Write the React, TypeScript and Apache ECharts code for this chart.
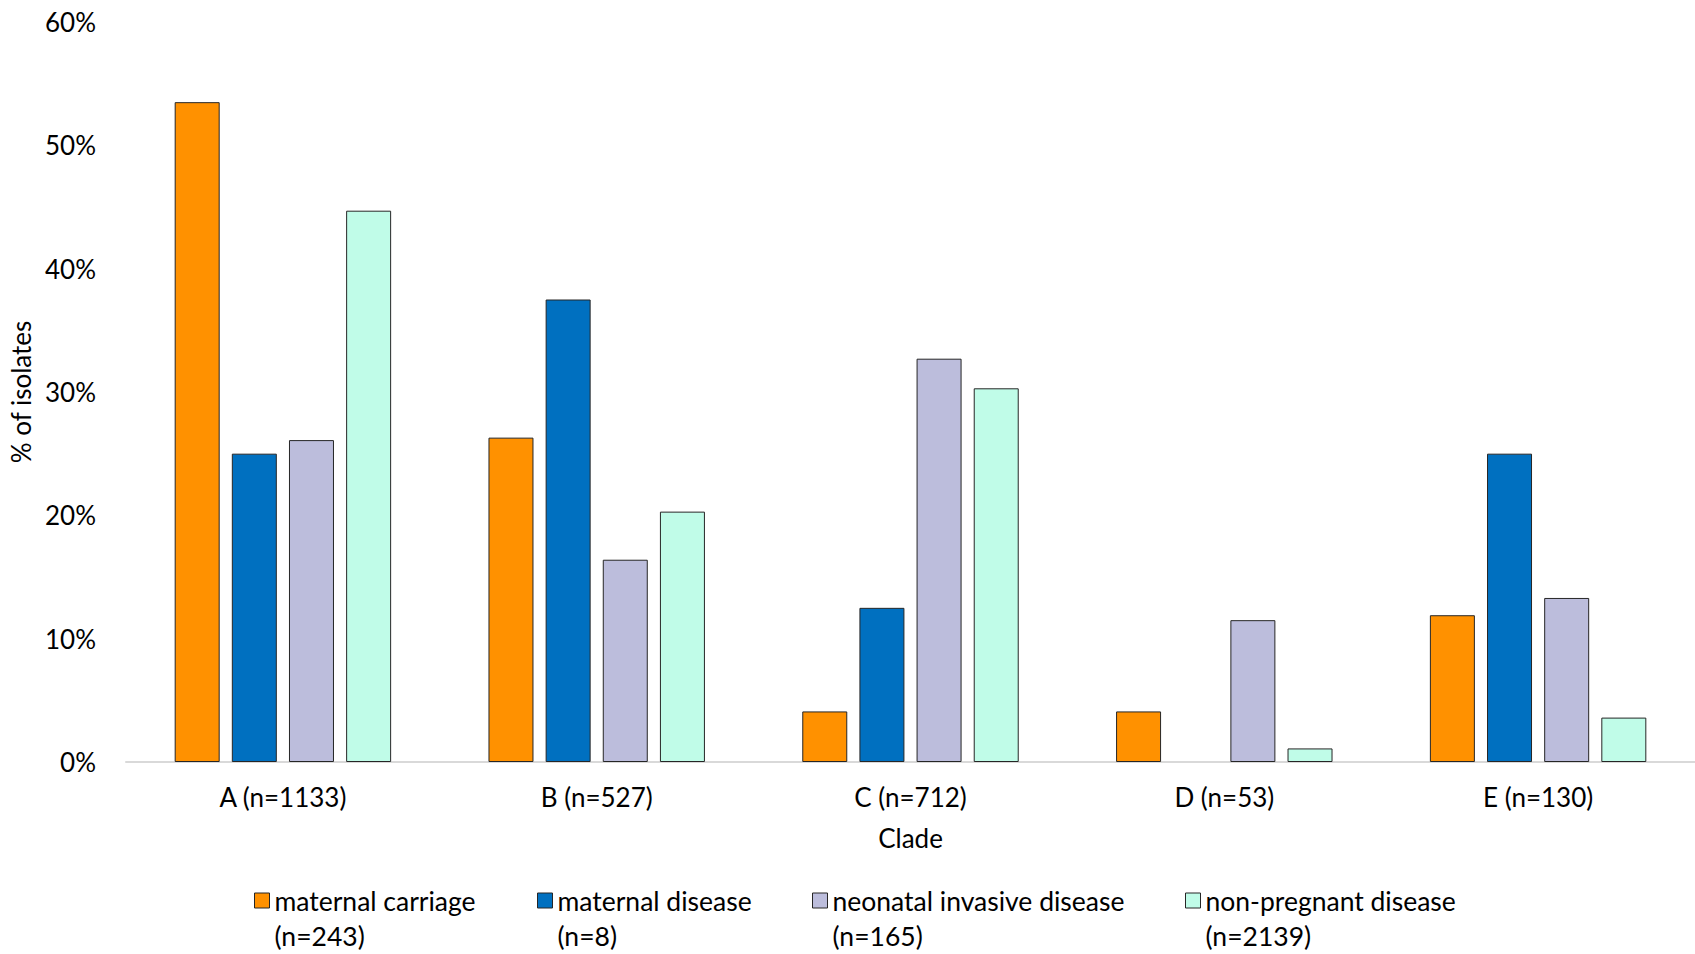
import React, { useEffect, useRef } from "react";
import * as echarts from "echarts";

const categories = ["A (n=1133)", "B (n=527)", "C (n=712)", "D (n=53)", "E (n=130)"];
const seriesNames = [
  "maternal carriage\n(n=243)",
  "maternal disease\n(n=8)",
  "neonatal invasive disease\n(n=165)",
  "non-pregnant disease\n(n=2139)",
];
const maternalCarriage = [53.5, 26.3, 4.1, 4.1, 11.9];
const maternalDisease = [25.0, 37.5, 12.5, 0, 25.0];
const neonatalInvasive = [26.1, 16.4, 32.7, 11.5, 13.3];
const nonPregnant = [44.7, 20.3, 30.3, 1.1, 3.6];
const yTicks = [0, 10, 20, 30, 40, 50, 60];

const colors = ["#FF9100", "#0070C0", "#BCBDDC", "#C0FCE8"];
const legendLeft = [254, 537, 812, 1185];
const FONT = "Lato";

export default function App() {
  const ref = useRef<HTMLDivElement>(null);
  useEffect(() => {
    if (!ref.current) return;
    const chart = echarts.init(ref.current, null, { renderer: "svg" });
    const all = [maternalCarriage, maternalDisease, neonatalInvasive, nonPregnant];
    const series = all.map((vals, i) => ({
      name: seriesNames[i],
      type: "bar",
      barWidth: 45,
      barGap: "27%",
      data: vals.map((v) => (v === 0 ? { value: v, itemStyle: { borderWidth: 0 } } : v)),
      itemStyle: { color: colors[i], borderColor: "#262626", borderWidth: 1 },
    }));
    const legends = seriesNames.map((n, i) => ({
      data: [n],
      left: legendLeft[i],
      top: 848,
      padding: 0,
      orient: "horizontal",
      itemWidth: 15,
      itemHeight: 15,
      icon: "rect",
      itemStyle: { borderColor: "#262626", borderWidth: 1 },
      formatter: (name: string) => " \n" + name,
      textStyle: {
        fontFamily: FONT,
        fontSize: 26.5,
        color: "#000",
        lineHeight: 35,
      },
      selectedMode: false,
    }));
    chart.setOption({
      animation: false,
      backgroundColor: "#fff",
      grid: { left: 126, right: 0, top: 22, bottom: 192, containLabel: false },
      legend: legends,
      xAxis: {
        type: "category",
        data: categories,
        axisTick: { show: false },
        axisLine: { lineStyle: { color: "#D9D9D9", width: 2 } },
        axisLabel: { fontFamily: FONT, fontSize: 26, color: "#000", margin: 22 },
        name: "Clade",
        nameLocation: "middle",
        nameGap: 63,
        nameTextStyle: { fontFamily: FONT, fontSize: 26, color: "#000" },
      },
      yAxis: {
        type: "value",
        min: yTicks[0],
        max: yTicks[yTicks.length - 1],
        interval: 10,
        splitLine: { show: false },
        axisLine: { show: false },
        axisTick: { show: false },
        axisLabel: {
          formatter: "{value}%",
          fontFamily: FONT,
          fontSize: 26,
          color: "#000",
          margin: 30,
        },
        name: "% of isolates",
        nameLocation: "middle",
        nameGap: 82,
        nameTextStyle: { fontFamily: FONT, fontSize: 26, color: "#000" },
      },
      series,
    });
    return () => chart.dispose();
  }, []);
  return (
    <div
      ref={ref}
      style={{ position: "fixed", left: 0, top: 0, width: 1695, height: 954 }}
    />
  );
}
